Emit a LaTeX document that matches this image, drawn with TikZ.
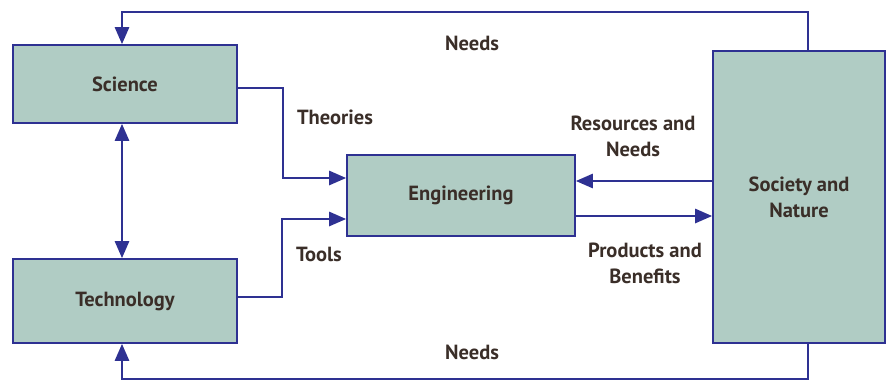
\documentclass[tikz,border=0pt]{standalone}
\usepackage{fontspec}
\setmainfont{PT Sans}
\usetikzlibrary{arrows.meta}
\definecolor{boxfill}{HTML}{B0CCC4}
\definecolor{navy}{HTML}{2E3192}
\definecolor{txt}{HTML}{3A2E28}
\begin{document}
\begin{tikzpicture}[x=1pt,y=-1pt,
  box/.style={draw=navy,fill=boxfill,line width=1.6pt,inner sep=0pt,text=txt,font=\bfseries\fontsize{20.5}{26}\selectfont,align=center},
  conn/.style={draw=navy,line width=2.6pt},
  arr/.style={conn,-{Triangle[length=17pt,width=14pt]}},
  lbl/.style={text=txt,font=\bfseries\fontsize{20.5}{26}\selectfont,align=center,inner sep=0pt}]
\useasboundingbox (0,0) rectangle (887,381);
\node[box,minimum width=224pt,minimum height=78pt] (sci) at (125,84) {Science};
\node[box,minimum width=224pt,minimum height=84pt] (tech) at (125,301) {Technology};
\node[box,minimum width=228pt,minimum height=81pt] (eng) at (461,195.5) {Engineering};
\node[box,minimum width=172pt,minimum height=292pt] (soc) at (799,197) {Society and\\Nature};
\coordinate (tl) at (122,12);
\coordinate (tr) at (808,12);
\coordinate (bl) at (122,379);
\coordinate (br) at (808,379);
\draw[arr] (soc.north -| tr) -- (tr) -- (tl) -- (sci.north -| tl);
\draw[arr] (soc.south -| br) -- (br) -- (bl) -- (tech.south -| bl);
\draw[conn,{Triangle[length=17pt,width=14pt]}-{Triangle[length=17pt,width=14pt]}] (sci.south -| tl) -- (tech.north -| tl);
\coordinate (sj) at (283,88);
\coordinate (tj) at (282,297);
\draw[arr] (sci.east |- sj) -- (sj) -- (283,178) -- (eng.west |- 0,178);
\draw[arr] (tech.east |- tj) -- (tj) -- (282,219) -- (eng.west |- 0,219);
\draw[arr] (soc.west |- 0,181) -- (eng.east |- 0,181);
\draw[arr] (eng.east |- 0,216) -- (soc.west |- 0,216);
\node[lbl] (n1) at (472,43) {Needs};
\node[lbl] (n2) at (472,352) {Needs};
\node[lbl] (th) at (335,117) {Theories};
\node[lbl] (to) at (319,254) {Tools};
\node[lbl] (rn) at (633,136) {Resources and\\Needs};
\node[lbl] (pb) at (645,263) {Products and\\Benefits};
\end{tikzpicture}
\end{document}
